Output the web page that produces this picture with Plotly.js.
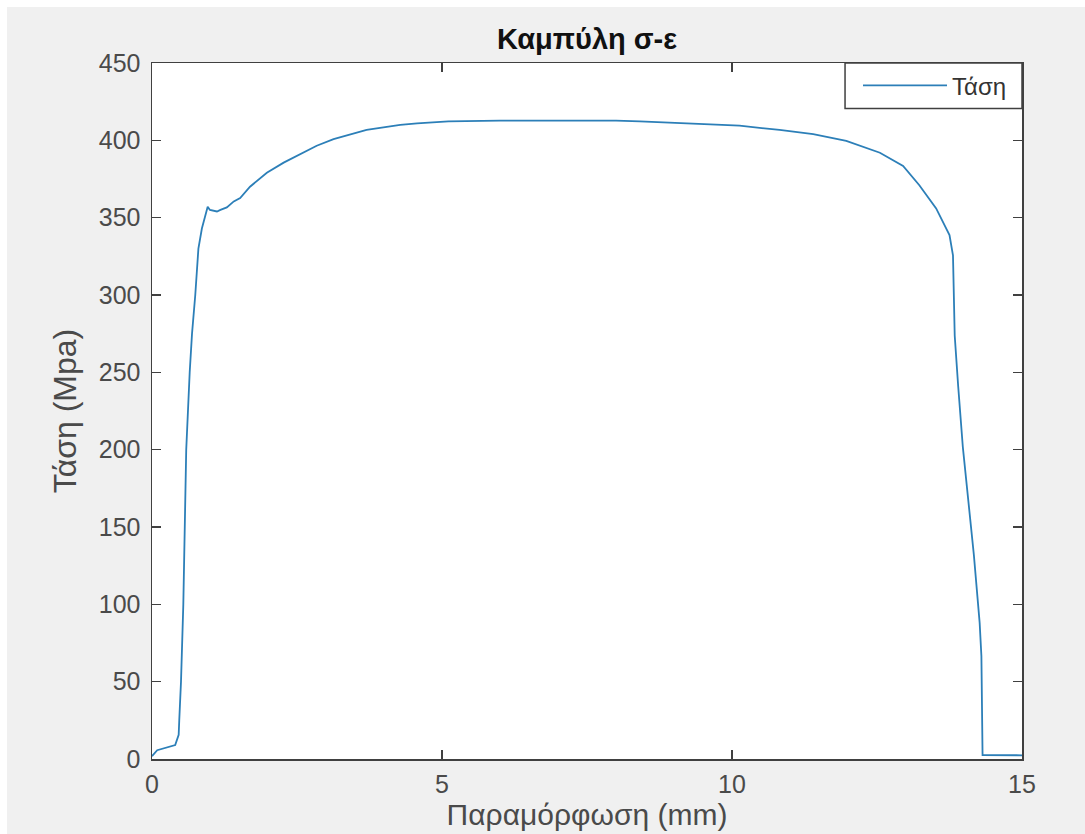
<!DOCTYPE html>
<html>
<head>
<meta charset="utf-8">
<script src="https://cdn.plot.ly/plotly-3.0.1.min.js"></script>
<style>
html, body { margin: 0; padding: 0; background: #ffffff; width: 1085px; height: 834px; overflow: hidden; }
#chart { position: absolute; left: 7px; top: 7px; width: 1078px; height: 827px; }
</style>
</head>
<body>
<div id="chart"></div>
<script>
// Strain (mm)
const strain = [0, 0.09, 0.40, 0.46, 0.47, 0.50, 0.54, 0.56, 0.59, 0.65, 0.69, 0.746, 0.80, 0.86, 0.92, 0.96,
  1.00, 1.12, 1.18, 1.29, 1.41, 1.52, 1.69, 1.98, 2.27, 2.55, 2.84, 3.13, 3.42, 3.70, 3.99, 4.28, 4.57, 4.85,
  5.11, 6.0, 7.0, 8.0, 8.41, 9.1, 10.13, 10.82, 11.40, 11.97, 12.55, 12.95, 13.23, 13.52, 13.75, 13.81,
  13.83, 13.84, 13.90, 13.98, 14.17, 14.22, 14.27, 14.30, 14.31, 14.32, 15.0];
// Stress (MPa)
const stress = [1.8, 5.7, 9, 15.7, 25, 50, 100, 150, 200, 250, 275, 300, 330, 343, 352, 357,
  355, 354, 355, 356.6, 360.5, 362.7, 370, 379, 385.6, 391, 396.5, 400.8, 404, 406.7, 408.4, 410, 411, 411.7,
  412.3, 412.8, 413, 412.8, 412.3, 411, 409.5, 406.7, 404, 399.7, 392, 383.4, 371, 356, 338.8, 325.7,
  295, 273.6, 240.8, 201.6, 132, 110, 88, 66.6, 3.5, 2.5, 2.4];

const seriesName = 'Τάση';
const titleText = 'Καμπύλη σ-ε';
const xTitle = 'Παραμόρφωση (mm)';
const yTitle = 'Τάση (Mpa)';
const xTicks = [0, 5, 10, 15];
const yTicks = [0, 50, 100, 150, 200, 250, 300, 350, 400, 450];

const font = '"Liberation Sans", Arial, Helvetica, sans-serif';
const axisColor = '#404040';
const textColor = '#4a4a4a';

const trace = {
  x: strain, y: stress, type: 'scatter', mode: 'lines', name: seriesName,
  line: { color: '#2c7fb8', width: 1.8 }
};

const axisCommon = {
  showgrid: false, zeroline: false, showline: true, mirror: 'ticks',
  linecolor: axisColor, linewidth: 1.5, ticks: 'inside', ticklen: 9, tickwidth: 1.5,
  tickcolor: axisColor, tickfont: { family: font, size: 25, color: textColor }
};

const layout = {
  width: 1078, height: 827,
  paper_bgcolor: '#f0f0f0', plot_bgcolor: '#ffffff',
  margin: { l: 145, r: 63, t: 56, b: 75 },
  showlegend: true,
  title: { text: titleText, font: { family: font, size: 29, color: '#111111', weight: 'bold' },
           x: 0.5, xref: 'paper', xanchor: 'center', y: 0.962, yref: 'container', yanchor: 'middle' },
  xaxis: Object.assign({}, axisCommon, {
    range: [0, 15], tickvals: xTicks, ticktext: xTicks.map(String), ticklabelstandoff: 2,
    title: { text: xTitle, font: { family: font, size: 30, color: textColor }, standoff: 2 }
  }),
  yaxis: Object.assign({}, axisCommon, {
    range: [0, 450], tickvals: yTicks, ticktext: yTicks.map(String), ticklabelstandoff: 5,
    title: { text: yTitle, font: { family: font, size: 32, color: textColor }, standoff: 12 }
  }),
  shapes: [{
    type: 'rect', xref: 'paper', yref: 'paper', x0: 0.7966, x1: 1, y0: 0.9347, y1: 1,
    line: { color: axisColor, width: 1.5 }, fillcolor: '#ffffff', layer: 'above'
  }],
  legend: {
    x: 0.8115, y: 0.9673, xanchor: 'left', yanchor: 'middle', xref: 'paper', yref: 'paper',
    bgcolor: 'rgba(0,0,0,0)', borderwidth: 0,
    font: { family: font, size: 24, color: '#333333' }, itemwidth: 84
  }
};

Plotly.newPlot('chart', [trace], layout, { displayModeBar: false, staticPlot: true });
</script>
</body>
</html>
